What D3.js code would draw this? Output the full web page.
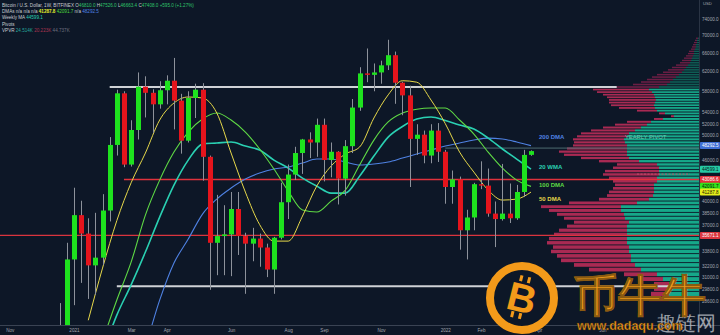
<!DOCTYPE html>
<html><head><meta charset="utf-8">
<script src="https://cdn.jsdelivr.net/npm/d3@7"></script>
<style>
html,body{margin:0;padding:0;background:#0d1727;overflow:hidden;}
svg{display:block;}
text{font-family:"Liberation Sans",Arial,sans-serif;}
</style></head><body>
<svg id="c" width="720" height="335"></svg>
<script>
// ---------- DATA ----------
const firstWeek = "2020-12-21", lastWeek = "2022-03-28";
const opens  = [23480,26250,32900,38200,35900,32250,33100,38800,48400,57600,45300,50900,58900,57700,55500,58200,60100,56200,49100,56700,58300,46500,34800,35600,35800,39000,35600,34700,35300,34250,31800,35400,39900,43800,47100,49300,48800,51800,46000,47300,43200,48200,54900,61600,61300,61800,63300,65500,59700,57200,49400,50100,46700,50800,47300,42000,43100,36300,37900,42400,42200,38400,37700,38400,37800,41300,46810];
const highs  = [28400,34800,41900,40100,37800,38500,41000,49700,58300,58000,52600,61800,61000,58400,60000,61200,64900,57500,58000,59500,59600,46700,40900,39500,41300,41300,36000,36600,35900,34700,35500,42600,45300,48100,49400,50500,52900,52900,48800,47400,49200,56500,62900,67000,63700,64300,69000,66300,59900,59100,51900,50800,51900,52100,47600,44400,43500,38900,42600,45800,44700,40000,45400,42500,42300,47600,47526];
const lows   = [21900,25900,28200,30400,28800,29200,32300,37400,46700,44900,45000,49300,53100,50400,54700,55500,51000,47000,48800,53000,42900,29700,31200,31200,31100,33400,29300,32700,32100,31000,29300,35200,37700,43000,43900,46300,46500,42800,43400,39600,40800,47100,54300,59800,58000,59500,62300,55600,53500,42000,46800,45500,45500,45700,39700,39700,34000,32900,36300,41700,38000,34300,37500,37200,37600,40600,46663];
const closes = [26250,32900,38200,35900,32250,33100,38800,48400,57600,45300,50900,58900,57700,55500,58200,60100,56200,49100,56700,58300,46500,34800,35600,35800,39000,35600,34700,35300,34250,31800,35400,39900,43800,47100,49300,48800,51800,46000,47300,43200,48200,54900,61600,61300,61800,63300,65500,59700,57200,49400,50100,46700,50800,47300,42000,43100,36300,37900,42400,42200,38400,37700,38400,37800,41300,46800,47408];

// moving averages sampled every 2 weeks (week index from firstWeek)
const maIdx  = [4,6,8,10,12,14,16,18,20,22,24,26,28,30,32,34,36,38,40,42,44,46,48,50,52,54,56,58,60,62,64,66];
const dma50  = [26800,31960,37500,42600,47100,52640,55750,56890,56700,53900,47100,41290,37000,35000,35000,38080,42140,45070,46940,48060,53000,57300,60100,59800,56310,52000,47250,44170,41570,40190,40330,41287.8];
const dma100 = [null,25000,28700,32600,38210,42990,47250,50550,52820,53900,52640,50550,47740,44620,41430,38860,38600,40050,41570,45230,49200,52300,53900,54600,54810,54810,52640,50210,47250,44770,42990,42091.7];
const wma20  = [null,24000,27270,30200,33730,37950,42270,45990,48540,48710,48880,48220,47570,45990,44770,43280,42130,41150,41150,43570,46620,49700,51500,52810,53170,52550,51750,51060,49530,47740,46150,44599.1];
const dma200 = [null,null,null,22000,24600,28680,32500,35240,38340,40330,41850,43140,44020,44620,44920,45530,46150,46150,45690,45230,45380,45690,46310,46940,47570,48220,48710,49200,49530,49370,48880,48292.5];

// volume profile: rows of 500 USD, centre prices from 28750 to 69250
const vpFirst = 28750, vpStep = 500;
const vpUp   = [30,30,30,30,36,42,58,
                64,68,68,70,70,72,72,72,72,72,70,74,75,78,78,62,
                50,46,45,45,45,42,42,40,40,40,42,60,70,72,72,72,72,74,75,72,
                70,64,58,52,48,36,25,34,42,44,45,44,43,44,45,47,50,40,32,29,
                26,23,20,17,15,13,11,9,8,7,6,5,5,4,3,3,2,2,1];
const vpDown = [20,18,15,15,24,33,52,
                61,70,74,78,76,80,78,73,68,60,55,61,67,72,80,68,
                50,46,45,41,39,44,48,56,54,46,40,40,48,63,68,60,54,51,51,50,
                48,44,38,32,24,9,3,6,20,36,43,46,47,48,51,55,56,44,34,29,
                26,24,22,19,16,14,12,10,9,8,7,6,5,4,4,3,3,2,2];
const vpValueHigh = 58500;

// horizontal levels
const levelPrices = [58840, 30070, 43086.6, 35671.1, 47890];
const levelStarts = ["2021-02-08","2021-02-15","2021-02-22","2020-10-01","2022-01-03"];
const levelEnds   = ["2022-06-20", null, null, null, null];

// axes
const priceTicks = [74000,70000,66000,62000,58000,54000,52000,50000,46000,40000,38500,37000,33800,32200,31000,29800,28600];
const xTickDates  = ["2020-11-02","2021-01-04","2021-03-01","2021-04-05","2021-06-07","2021-08-02","2021-09-06","2021-11-01","2022-01-03","2022-02-07","2022-04-04","2022-06-06"];
const xTickLabels = ["Nov","2021","Mar","Apr","Jun","Aug","Sep","Nov","2022","Feb","Apr","Jun"];
const markValues = [48292.5, 44599.1, 43086.6, 42091.7, 41287.8, 35671.1];
const maNames = ["200 DMA","20 WMA","100 DMA","50 DMA"];
const maNameValues = [49700, 45000, 42350, 40300];

// ---------- STYLE ----------
const markBg = ["#3f6fd6","#26c9a4","#e2323d","#35e21c","#e4ee1c","#dc3640"];
const markFg = ["#ffffff","#04201a","#ffffff","#062006","#202000","#ffffff"];
const maColors = ["#4f82e3","#2ad0b2","#5fda45","#e6d84a"];
const levelColors = ["#cfd2d6","#cfd2d6","#e0323c","#d9343e","#4e6c70"];
const levelWidths = [2,2,1.4,1.2,1];

const W=720,H=335, plotR=699, plotB=325;
const parse = d3.utcParse("%Y-%m-%d");
const svg = d3.select("#c");
svg.append("rect").attr("width",W).attr("height",H).attr("fill","#0d1727");

const x = d3.scaleUtc().domain([parse(firstWeek), parse(lastWeek)]).range([59.7, 531]);
const y = d3.scaleLog().domain([74000, 28600]).range([19, 301]);
const weekDate = i => d3.utcDay.offset(parse(firstWeek), 7*i);

svg.append("clipPath").attr("id","plot").append("rect").attr("width",plotR).attr("height",plotB);
const g = svg.append("g").attr("clip-path","url(#plot)");

// volume profile
const vpX = d3.scaleLinear().domain([0,160]).range([0,160]);
vpUp.forEach((up,i)=>{
  const p = vpFirst + i*vpStep;
  const dn = vpDown[i];
  const y0 = y(p+vpStep/2), y1 = y(p-vpStep/2);
  const hh = Math.max(0.8, y1-y0-0.9);
  const dim = p > vpValueHigh;
  g.append("rect").attr("x", plotR - vpX(up)).attr("y", y0).attr("width", vpX(up)).attr("height", hh)
    .attr("fill", dim ? "#0f5f56" : "#16a88a");
  g.append("rect").attr("x", plotR - vpX(up+dn)).attr("y", y0).attr("width", vpX(dn)).attr("height", hh)
    .attr("fill", dim ? "#6b1e44" : "#a92a53");
});

// levels
levelPrices.forEach((p,i)=>{
  const x0 = x(parse(levelStarts[i]));
  const x1 = levelEnds[i] ? x(parse(levelEnds[i])) : plotR;
  g.append("line").attr("x1",Math.max(0,x0)).attr("x2",x1).attr("y1",y(p)).attr("y2",y(p))
    .attr("stroke",levelColors[i]).attr("stroke-width",levelWidths[i]);
});
g.append("line").attr("x1",637).attr("x2",690).attr("y1",y(43870)).attr("y2",y(43870))
  .attr("stroke","#c0506a").attr("stroke-width",1).attr("stroke-dasharray","2,1.5");

// MA lines
const series = [dma200, wma20, dma100, dma50];
const widths = [1.1, 1.6, 1.1, 1];
series.forEach((s,k)=>{
  const pts = maIdx.map((wi,j)=>[weekDate(wi), s[j]]);
  const line = d3.line().defined(d=>d[1]!=null).x(d=>x(d[0])).y(d=>y(d[1])).curve(d3.curveMonotoneX);
  g.append("path").attr("d", line(pts)).attr("fill","none").attr("stroke",maColors[k]).attr("stroke-width",widths[k]);
});

// candles
const cg = g.append("g");
closes.forEach((c,i)=>{
  const cx = Math.round(x(weekDate(i))) + 0.5;
  const o = opens[i];
  cg.append("line").attr("x1",cx).attr("x2",cx).attr("y1",y(highs[i])).attr("y2",y(lows[i]))
    .attr("stroke","#8d929b").attr("stroke-width",1);
  const top = y(Math.max(o,c)), bot = y(Math.min(o,c));
  cg.append("rect").attr("x",cx-2.5).attr("width",5).attr("y",top).attr("height",Math.max(1.2,bot-top))
    .attr("fill", c>=o ? "#1ee21e" : "#e5141c");
});

// MA name labels
maNames.forEach((n,k)=>{
  g.append("text").attr("x",539).attr("y",y(maNameValues[k])).attr("dy","0.35em")
    .attr("font-size",6).attr("font-weight","bold").attr("fill",maColors[k]).text(n);
});
g.append("text").attr("x",625).attr("y",y(49700)).attr("dy","0.35em").attr("font-size",5.8)
  .attr("fill","#6cc9b4").text("YEARLY PIVOT");

// axes
svg.append("line").attr("x1",0).attr("x2",W).attr("y1",plotB+0.5).attr("y2",plotB+0.5).attr("stroke","#3a4353");
svg.append("line").attr("x1",plotR+0.5).attr("x2",plotR+0.5).attr("y1",0).attr("y2",plotB).attr("stroke","#2a3444");

const yAxis = d3.axisRight(y).tickValues(priceTicks).tickFormat(d=>d.toFixed(1)).tickSize(0).tickPadding(3);
const ya = svg.append("g").attr("transform",`translate(${plotR},0)`).call(yAxis);
ya.select(".domain").remove();
ya.selectAll("text").attr("fill","#a3a7b0").attr("font-size",4.6).attr("font-family","Liberation Sans, Arial, sans-serif");

const xAxis = d3.axisBottom(x).tickValues(xTickDates.map(parse)).tickFormat((d,i)=>xTickLabels[i]).tickSize(0).tickPadding(4);
const xa = svg.append("g").attr("transform",`translate(0,${plotB})`).call(xAxis);
xa.select(".domain").remove();
xa.selectAll("text").attr("fill","#a3a7b0").attr("font-size",4.6).attr("font-family","Liberation Sans, Arial, sans-serif");

// colored price marks
markValues.forEach((v,i)=>{
  const yy = y(v);
  svg.append("rect").attr("x",plotR+1).attr("y",yy-3.5).attr("width",W-plotR-1).attr("height",7).attr("fill",markBg[i]).attr("rx",0.8);
  svg.append("text").attr("x",plotR+3).attr("y",yy).attr("dy","0.35em").attr("font-size",4.6).attr("fill",markFg[i]).text(v.toFixed(1));
});
svg.append("text").attr("x",703).attr("y",5).attr("font-size",4.2).attr("fill","#a3a7b0").text("USD");

// header legend
const hdr = svg.append("g").attr("font-size",4.6);
const t1 = hdr.append("text").attr("x",2).attr("y",6.8).attr("fill","#c9ccd2");
t1.append("tspan").text("Bitcoin / U.S. Dollar, 1W, BITFINEX  ");
[["O","46810.0"],["H","47526.0"],["L","46663.4"],["C","47408.0"]].forEach(([a,b])=>{
  t1.append("tspan").attr("fill","#c9ccd2").text(a);
  t1.append("tspan").attr("fill","#2fc46a").text(b+" ");
});
t1.append("tspan").attr("fill","#2fc46a").text("+595.0 (+1.27%)");
const t2 = hdr.append("text").attr("x",2).attr("y",12.9).attr("fill","#c9ccd2");
t2.append("tspan").text("DMAs n/a n/a n/a ");
t2.append("tspan").attr("fill","#e6ee2a").attr("font-weight","bold").text("41287.8 ");
t2.append("tspan").attr("fill","#4cd93a").text("42091.7 ");
t2.append("tspan").text("n/a ");
t2.append("tspan").attr("fill","#4f82e3").text("48292.5");
const t3 = hdr.append("text").attr("x",2).attr("y",19.2).attr("fill","#c9ccd2");
t3.append("tspan").text("Weekly MA ");
t3.append("tspan").attr("fill","#2ad0b2").text("44599.1");
hdr.append("text").attr("x",2).attr("y",25.7).attr("fill","#c9ccd2").text("Pivots");
const t5 = hdr.append("text").attr("x",2).attr("y",32.2).attr("fill","#c9ccd2");
t5.append("tspan").text("VPVR ");
t5.append("tspan").attr("fill","#26a69a").text("24.514K ");
t5.append("tspan").attr("fill","#a8344f").text("20.223K ");
t5.append("tspan").attr("fill","#6d7280").text("44.737K");

// watermark
const wm = svg.append("g");
wm.append("circle").attr("cx",522).attr("cy",298).attr("r",32).attr("fill","#0d1727").attr("stroke","#f39a1a").attr("stroke-width",8);
const bg = wm.append("g").attr("transform","rotate(14,522,298)");
bg.append("text").attr("x",522).attr("y",312).attr("text-anchor","middle").attr("font-size",40).attr("font-weight","bold")
  .attr("fill","#f39a1a").text("B");
[[515,276],[523,276],[515,313],[523,313]].forEach(([a,b])=>bg.append("rect").attr("x",a).attr("y",b).attr("width",3).attr("height",6).attr("fill","#f39a1a"));
wm.append("text").attr("x",716).attr("y",330).attr("text-anchor","end").attr("font-size",20).attr("font-family","Noto Sans CJK SC")
  .attr("fill","#d6d9de").attr("opacity",0.7).text("趣链网");
wm.append("text").attr("x",574).attr("y",311).attr("font-size",44).attr("font-weight","bold").attr("font-family","Noto Sans CJK SC")
  .attr("fill","#f39a1a").attr("stroke","#8a5a10").attr("stroke-width",0.6).text("币牛牛");
wm.append("text").attr("x",577).attr("y",330).attr("font-size",12.5).attr("font-weight","bold")
  .attr("fill","#f39a1a").attr("stroke","#3a2a10").attr("stroke-width",0.4).text("www.dadaqu.com");
</script>
</body></html>
